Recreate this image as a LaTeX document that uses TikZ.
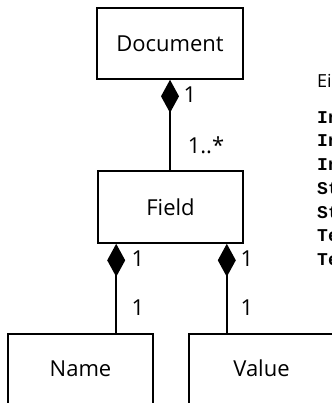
\documentclass[tikz,border=0pt]{standalone}
\usepackage{fontspec}
\setmainfont{Open Sans}
\setmonofont{Liberation Mono}
\usetikzlibrary{arrows.meta}
\begin{document}
\begin{tikzpicture}[x=1pt,y=-1pt,
  box/.style={draw, line width=1.6pt, inner sep=0pt, font=\fontsize{22}{26}\selectfont},
  openbox/.style={box, anchor=north, minimum width=145pt, text height=15.7pt, text depth=60pt, inner ysep=27pt},
  comp/.style={draw, line width=1.6pt, {Diamond[length=33pt,width=18pt,line width=0pt]}-},
  lab/.style={inner sep=0pt, font=\fontsize{22}{26}\selectfont},
  side/.style={anchor=west, inner sep=0pt, font=\fontsize{18}{22}\selectfont},
  code/.style={anchor=west, inner sep=0pt, font=\ttfamily\bfseries\fontsize{18}{20}\selectfont}]
\useasboundingbox (0,0) rectangle (331,403);
\node[box, minimum width=146pt, minimum height=71pt] (doc) at (170,43.5) {Document};
\node[box, minimum width=145pt, minimum height=72pt] (field) at (170.5,207) {Field};
\node[openbox] (name) at (80.5,333) {Name};
\node[openbox] (value) at (261.5,333) {Value};
\draw[comp] (doc.south) -- (doc.south |- field.north);
\draw[comp] ([xshift=19pt]field.south west) -- ([xshift=19pt]field.south west |- name.north);
\draw[comp] ([xshift=-17pt]field.south east) -- ([xshift=-17pt]field.south east |- value.north);
\node[lab] (m1) at (190,95) {1};
\node[lab] (m2) at (206,145) {1..*};
\node[lab] (m3) at (138,259) {1};
\node[lab] (m4) at (247,259) {1};
\node[lab] (m5) at (138,308) {1};
\node[lab] (m6) at (247,308) {1};
\node[side] (ei) at (317,81) {Ei};
\node[code] (c1) at (317,117.5) {In};
\node[code] (c2) at (317,141) {In};
\node[code] (c3) at (317,164.6) {In};
\node[code] (c4) at (317,188.4) {St};
\node[code] (c5) at (317,212.2) {St};
\node[code] (c6) at (317,236) {Te};
\node[code] (c7) at (317,259.8) {Te};
\end{tikzpicture}
\end{document}
